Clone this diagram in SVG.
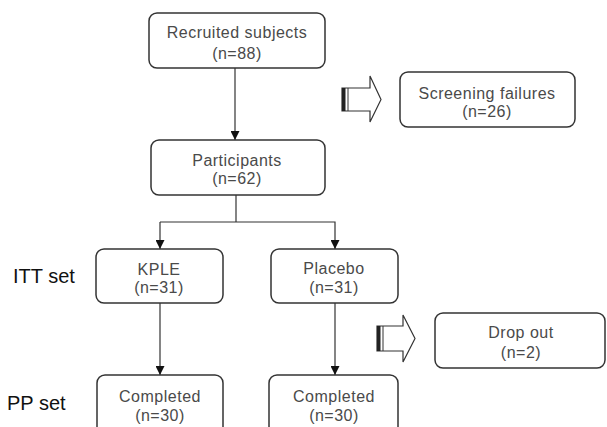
<svg xmlns="http://www.w3.org/2000/svg" width="607" height="427" viewBox="0 0 607 427">
<defs>
<style>
.box{fill:#fff;stroke:#333;stroke-width:1.5}
.t{font-family:"Liberation Sans",Arial,sans-serif;font-size:16px;fill:#4a4a4a;text-anchor:middle;letter-spacing:0.5px}
.lbl{font-family:"Liberation Sans",Arial,sans-serif;font-size:20px;fill:#111}
.ln{fill:none;stroke:#333;stroke-width:1.2}
.blk{fill:#fff;stroke:#333;stroke-width:1.2}
</style>
<marker id="ah" viewBox="0 0 10 10" refX="10" refY="5" markerWidth="9" markerHeight="9" markerUnits="userSpaceOnUse" orient="auto">
<path d="M0,0 L10,5 L0,10 Z" fill="#111"/>
</marker>
</defs>
<rect width="607" height="427" fill="#fff"/>
<g id="connectors">
<line class="ln" x1="235" y1="68" x2="235" y2="140" marker-end="url(#ah)"/>
<polyline class="ln" points="236,195 236,222"/>
<polyline class="ln" points="160,222 335,222 335,249" marker-end="url(#ah)"/>
<path d="M160,222 L160,249" class="ln" marker-end="url(#ah)"/>
<line class="ln" x1="160" y1="303" x2="160" y2="375" marker-end="url(#ah)"/>
<line class="ln" x1="335" y1="303" x2="335" y2="375" marker-end="url(#ah)"/>
</g>
<g id="arrow-screening">
<polygon class="blk" points="342,88 370,88 370,76 381,99.5 370,122 370,111 342,111"/>
<rect x="342" y="88" width="3.5" height="23" fill="#222"/>
<line x1="348" y1="88" x2="348" y2="111" stroke="#333" stroke-width="1"/>
</g>
<g id="arrow-dropout">
<polygon class="blk" points="377,326 403,326 403,315 415,338.5 403,362 403,351 377,351"/>
<rect x="377" y="326" width="3.5" height="25" fill="#222"/>
<line x1="383" y1="326" x2="383" y2="351" stroke="#333" stroke-width="1"/>
</g>
<g id="recruited">
<rect class="box" x="149" y="13" width="176" height="55" rx="8"/>
<text class="t" x="237" y="38">Recruited subjects</text>
<text class="t" x="237" y="59">(n=88)</text>
</g>
<g id="screening">
<rect class="box" x="400" y="72" width="175" height="55" rx="8"/>
<text class="t" x="487" y="99">Screening failures</text>
<text class="t" x="487" y="117">(n=26)</text>
</g>
<g id="participants">
<rect class="box" x="151" y="140" width="174" height="55" rx="8"/>
<text class="t" x="237" y="166">Participants</text>
<text class="t" x="237" y="184">(n=62)</text>
</g>
<g id="itt-label"><text class="lbl" x="13" y="283">ITT set</text></g>
<g id="kple">
<rect class="box" x="96" y="249" width="127" height="54" rx="8"/>
<text class="t" x="159" y="275">KPLE</text>
<text class="t" x="159" y="293">(n=31)</text>
</g>
<g id="placebo">
<rect class="box" x="271" y="249" width="127" height="54" rx="8"/>
<text class="t" x="334" y="274">Placebo</text>
<text class="t" x="334" y="293">(n=31)</text>
</g>
<g id="dropout">
<rect class="box" x="435" y="313" width="170" height="55" rx="8"/>
<text class="t" x="521" y="338">Drop out</text>
<text class="t" x="521" y="358">(n=2)</text>
</g>
<g id="pp-label"><text class="lbl" x="7" y="410">PP set</text></g>
<g id="completed-kple">
<rect class="box" x="97" y="375" width="126" height="70" rx="8"/>
<text class="t" x="160" y="402">Completed</text>
<text class="t" x="160" y="421">(n=30)</text>
</g>
<g id="completed-placebo">
<rect class="box" x="269" y="375" width="129" height="70" rx="8"/>
<text class="t" x="334" y="402">Completed</text>
<text class="t" x="334" y="421">(n=30)</text>
</g>
</svg>
